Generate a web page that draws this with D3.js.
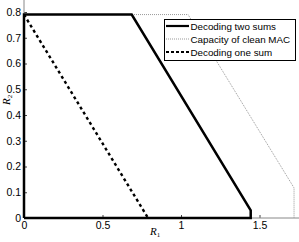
<!DOCTYPE html>
<html>
<head>
<meta charset="utf-8">
<script src="https://cdn.jsdelivr.net/npm/d3@7"></script>
<style>
  body { margin: 0; background: #fff; }
  svg { display: block; font-family: "Liberation Sans", Arial, sans-serif; }
  .tick text { font-size: 10.5px; fill: #000; }
  .legend text { font-size: 9.8px; }
</style>
</head>
<body>
<svg id="chart" width="299" height="242"></svg>
<script>
// rate regions (R1, R2)
const twoSumsR1 = [0, 0, 0.686, 1.444, 1.444, 0];
const twoSumsR2 = [0, 0.79, 0.79, 0.03, 0, 0];
const macR1 = [0, 1.045, 1.72, 1.72];
const macR2 = [0.79, 0.79, 0.117, 0];
const oneSumR1 = [0, 0.79];
const oneSumR2 = [0.79, 0];
const xTicks = [0, 0.5, 1, 1.5];
const yTicks = [0, 0.1, 0.2, 0.3, 0.4, 0.5, 0.6, 0.7, 0.8];
const legendNames = ["Decoding two sums", "Capacity of clean MAC", "Decoding one sum"];

const svg = d3.select("#chart");
const left = 24, bottom = 218;

let x = d3.scaleLinear().domain([0, 1.75]).range([left, left + 1.75 * 157]);
let y = d3.scaleLinear().domain([0, 0.8]).range([bottom, 12]);

function pts(xs, ys) { return xs.map((v, i) => [v, ys[i]]); }
let line = d3.line().x(d => x(d[0])).y(d => y(d[1]));

// axes, matlab style ticks pointing inwards
let xAxis = svg.append("g").attr("transform", "translate(0," + bottom + ")")
    .call(d3.axisBottom(x).tickValues(xTicks).tickSize(-3).tickPadding(4)
          .tickFormat(d3.format("")));
xAxis.select(".domain").remove();
xAxis.selectAll("line").attr("stroke", "#444");

let yAxis = svg.append("g").attr("transform", "translate(" + left + ",0)")
    .call(d3.axisLeft(y).tickValues(yTicks).tickSize(-3).tickPadding(3)
          .tickFormat(d3.format("")));
yAxis.select(".domain").remove();
yAxis.selectAll("line").attr("stroke", "#444");

svg.append("line").attr("x1", left).attr("x2", 299).attr("y1", bottom).attr("y2", bottom)
    .attr("stroke", "#888").attr("stroke-width", 1);
svg.append("line").attr("x1", left).attr("x2", left).attr("y1", 0).attr("y2", bottom)
    .attr("stroke", "#888").attr("stroke-width", 1);

// clean MAC capacity (dotted gray)
svg.append("path").datum(pts(macR1, macR2)).attr("d", line)
    .attr("fill", "none").attr("stroke", "#999").attr("stroke-width", 1)
    .attr("stroke-dasharray", "1,1");

// decoding one sum (dashed)
svg.append("path").datum(pts(oneSumR1, oneSumR2)).attr("d", line)
    .attr("fill", "none").attr("stroke", "#000").attr("stroke-width", 2.4)
    .attr("stroke-dasharray", "3,3");

// decoding two sums (solid)
svg.append("path").datum(pts(twoSumsR1, twoSumsR2)).attr("d", line)
    .attr("fill", "none").attr("stroke", "#000").attr("stroke-width", 2.5)
    .attr("stroke-linejoin", "miter");

// axis labels
svg.append("text").attr("x", 150).attr("y", 235)
    .style("font-family", "'Liberation Serif', serif").style("font-style", "italic")
    .style("font-size", "11px").text("R")
    .append("tspan").attr("dy", 2).style("font-size", "7px").style("font-style", "normal").text("1");
svg.append("text").attr("transform", "translate(10,105) rotate(-90)")
    .style("font-family", "'Liberation Serif', serif").style("font-style", "italic")
    .style("font-size", "11px").text("R")
    .append("tspan").attr("dy", 2).style("font-size", "7px").style("font-style", "normal").text("2");

// legend
let lg = svg.append("g").attr("class", "legend");
lg.append("rect").attr("x", 164.5).attr("y", 19.5).attr("width", 131).attr("height", 41)
    .attr("fill", "#fff").attr("stroke", "#000").attr("stroke-width", 1);
let styles = [
    { c: "#000", w: 2.2, d: null },
    { c: "#999", w: 1, d: "1,1" },
    { c: "#000", w: 2.2, d: "3,2" }
];
legendNames.forEach((name, i) => {
    let yy = 26 + i * 13;
    lg.append("line").attr("x1", 166).attr("x2", 189).attr("y1", yy).attr("y2", yy)
        .attr("stroke", styles[i].c).attr("stroke-width", styles[i].w)
        .attr("stroke-dasharray", styles[i].d);
    lg.append("text").attr("x", 190.5).attr("y", yy + 3.6).text(name);
});
</script>
</body>
</html>
